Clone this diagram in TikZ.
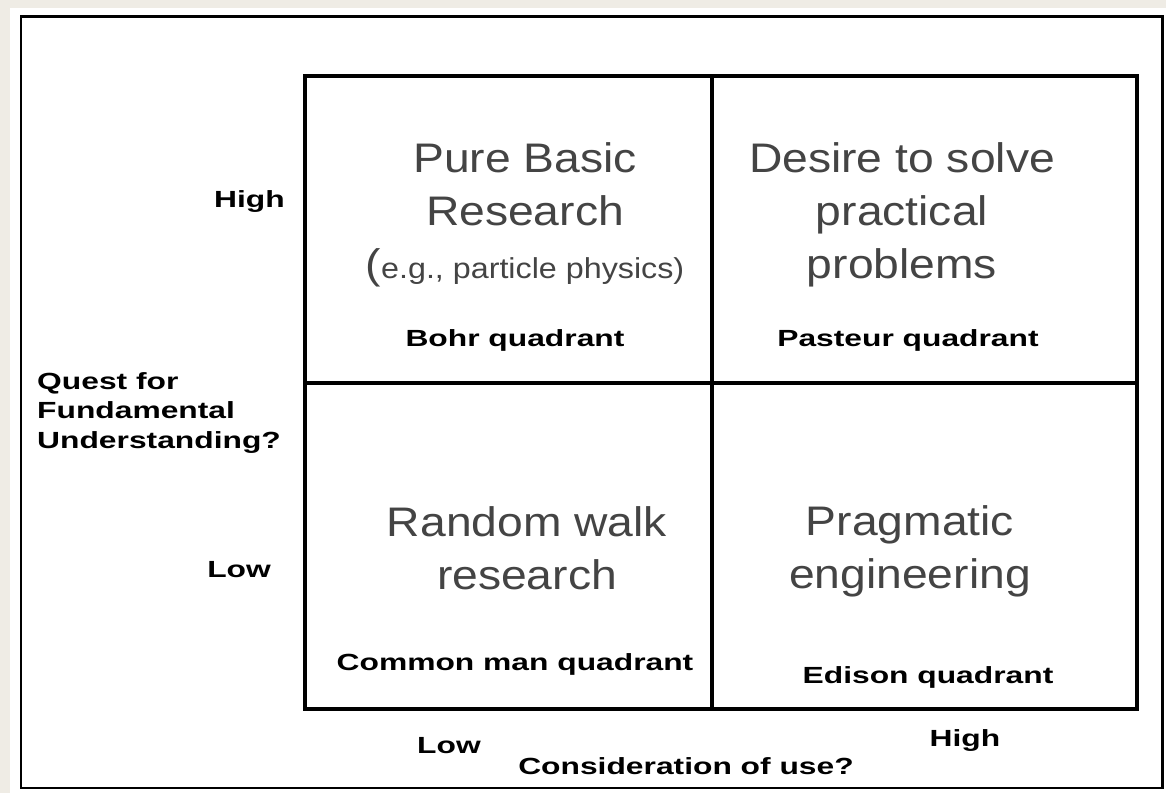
\documentclass[tikz,border=0pt]{standalone}
\usepackage{fontspec}
\setmainfont{Liberation Sans}
\newfontfamily\bigfont[FakeStretch=1.12]{Liberation Sans}
\newfontfamily\lblfont[FakeStretch=1.36]{Liberation Sans}
\usepackage{xcolor}
\usetikzlibrary{positioning,calc}
\definecolor{paper}{HTML}{EFECE5}
\definecolor{bigtext}{HTML}{444444}

\begin{document}
\begin{tikzpicture}[x=0.02cm, y=-0.02cm,
  big/.style={align=center, text=bigtext, font=\bigfont\fontsize{23.5}{30}\selectfont},
  lbl/.style={font=\lblfont\bfseries\fontsize{13.3}{17}\selectfont},
  grid/.style={line width=2.3pt}]
\useasboundingbox (0,0) rectangle (1166,793);
\fill[paper] (0,0) rectangle (1166,793);
\fill[white] (10,8) rectangle (1166,793);
\draw[line width=1.7pt] (21,17) rectangle (1162,788);
% quadrant grid
\coordinate (tl) at (305,76); \coordinate (br) at (1137,709);
\coordinate (mt) at (712,76); \coordinate (mb) at (712,709);
\coordinate (ml) at (305,383); \coordinate (mr) at (1137,383);
\draw[grid] (tl) rectangle (br);
\draw[grid] (mt) -- (mb); \draw[grid] (ml) -- (mr);
% quadrant texts
\node[big] (bohr) at (525,215) {Pure Basic\\Research\\{\fontsize{23.5}{30}\selectfont(}{\fontsize{16.4}{30}\selectfont e.g., particle physics)}};
\node[big] (pasteur) at (902,215) {Desire to solve\\practical\\problems};
\node[big] (walk) at (527,548) {Random walk\\research};
\node[big] (prag) at (910,551) {Pragmatic\\engineering};
\node[lbl] (bohrq) at (515,340) {Bohr quadrant};
\node[lbl] (pasteurq) at (908,340) {Pasteur quadrant};
\node[lbl] (commonq) at (515,664) {Common man quadrant};
\node[lbl] (edisonq) at (928,677) {Edison quadrant};
% axes labels
\node[lbl, anchor=east] (yhigh) at (291,202) {High};
\node[lbl, anchor=east] (ylow) at (277,570) {Low};
\node[lbl, anchor=west, align=left] (yaxis) at (31,413) {Quest for\\Fundamental\\Understanding?};
\node[lbl] (xlow) at (449,746) {Low};
\node[lbl] (xhigh) at (965,741) {High};
\node[lbl] (xaxis) at (686,766) {Consideration of use?};
\end{tikzpicture}
\end{document}
